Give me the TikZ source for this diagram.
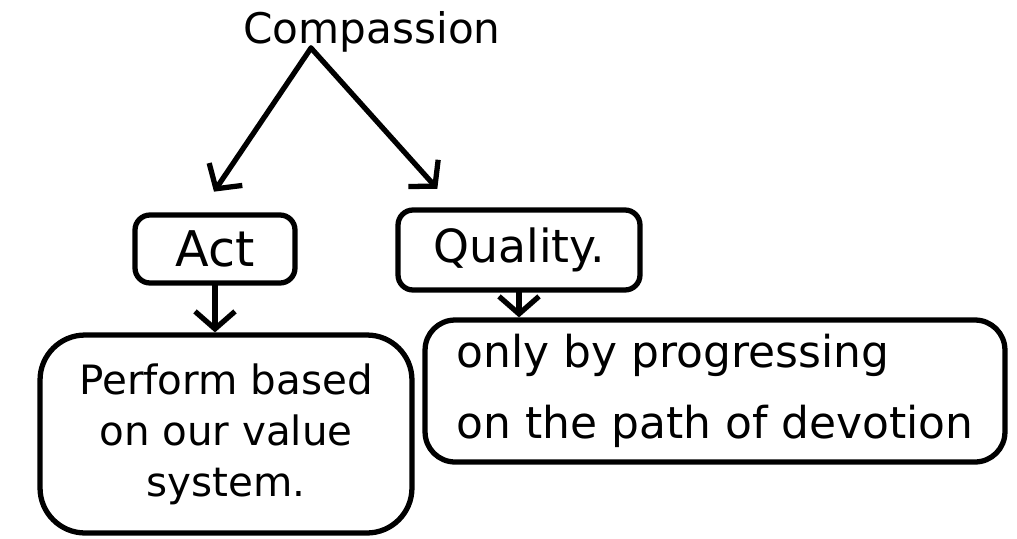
\documentclass[tikz,border=0pt]{standalone}
\usepackage{fontspec}
\setmainfont{DejaVu Sans}
\usetikzlibrary{arrows.meta}

\begin{document}
\begin{tikzpicture}[x=0.02cm, y=-0.02cm,
    line width=3pt, line cap=round, line join=round,
    hand/.style={font=\fontsize{23}{29}\selectfont},
    box/.style={draw, hand, inner sep=0pt, rounded corners=0.3cm},
    link/.style={-{Straight Barb[length=0.35cm,width=0.8cm]}, shorten >=0.5cm},
    ]
    \useasboundingbox (0,0) rectangle (1017,538);

    % top word
    \node[hand, font=\fontsize{24}{30}\selectfont] (comp) at (372,32) {Compassion};
    \coordinate (apex) at (311,48);

    % second row
    \node[box, font=\fontsize{28}{34}\selectfont, minimum width=3.2cm, minimum height=1.36cm] (act) at (215,249) {Act};
    \node[box, font=\fontsize{26}{32}\selectfont, minimum width=4.84cm, minimum height=1.6cm] (quality) at (519,250) {Quality.};

    % third row
    \node[box, rounded corners=0.9cm, align=center, minimum width=7.44cm, minimum height=3.96cm] (perform) at (226,434)
        {Perform based\\on our value\\system.};
    \node[box, font=\fontsize{25}{40}\selectfont, rounded corners=0.6cm, align=left, minimum width=11.6cm, minimum height=2.84cm] (devotion) at (715,391)
        {only by progressing\\on the path of devotion};

    % connectors
    \draw[link] (apex) -- ([xshift=-0.3cm]act.north);
    \draw[link] (apex) -- ([xshift=-1.3cm]quality.north);
    \draw[link, shorten >=0pt] (act.south) -- (act.south |- perform.north);
    \draw[link, shorten >=0pt] (quality.south) -- (quality.south |- devotion.north);

\end{tikzpicture}
\end{document}
